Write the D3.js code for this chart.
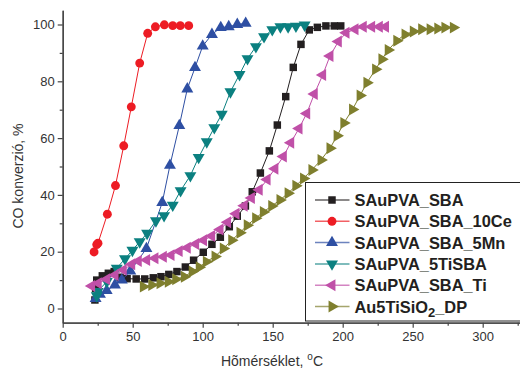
<!DOCTYPE html>
<html>
<head>
<meta charset="utf-8">
<script src="https://cdn.jsdelivr.net/npm/d3@7"></script>
<style>
  body { margin: 0; background: #fff; }
  svg { font-family: "Liberation Sans", Arial, sans-serif; }
</style>
</head>
<body>
<div id="chart"></div>
<script>
// Series (temperature in °C, CO conversion in %)
const sbaX = [23, 23.5, 24.3, 28.3, 32.6, 36.8, 41, 46, 52.5, 58.6, 64.7, 70.2, 75.8, 81.6, 87.6, 93.5, 100.4, 106.6, 112.6, 119, 124.7, 130.5, 135.4, 141.2, 147.6, 153.3, 159.3, 164.7, 170.2, 176.1, 181.9, 188, 194, 198.6];
const sbaY = [3, 7, 10, 11.5, 12.4, 13, 11, 10.5, 10.4, 10.4, 10.8, 11.2, 12, 13, 14.6, 17, 19.8, 22.6, 25.1, 28.8, 32.5, 36.1, 41.1, 47.7, 55.5, 64.6, 74.6, 84.9, 93, 98.1, 99, 99.5, 99.5, 99.5];

const ceX = [22.4, 24.3, 25.2, 31.9, 37.7, 43.6, 49, 55, 60.7, 66.2, 72.6, 78.6, 84, 90];
const ceY = [19.9, 22.5, 23, 33.2, 43.3, 57.3, 71, 86.4, 96.9, 99.2, 99.9, 99.6, 99.6, 99.6];

const mnX = [23.5, 26.6, 31.4, 37.3, 42.2, 48.3, 59.8, 71.1, 76.6, 83.3, 89, 94.5, 100, 106.6, 112.9, 118.6, 124.7, 130.7];
const mnY = [3.5, 5, 6.3, 8.3, 10, 13.2, 21.1, 37.3, 50.4, 64.4, 77.3, 84.8, 92.4, 96.5, 98.9, 99.2, 100, 100.4];

const tiSbaX = [24.3, 25, 31.5, 38.6, 44.5, 49.8, 55, 60.3, 66.6, 72.4, 78.6, 84.2, 91.2, 97.1, 102.9, 108.3, 113.6, 119.8, 126.3, 132, 138, 143.8, 149.7, 155.5, 161, 166.6, 172.8];
const tiSbaY = [4.5, 6, 9.5, 14.2, 17.5, 20.5, 23.5, 26.5, 30.9, 32.7, 36.4, 41.5, 46.8, 53.2, 58.7, 63.7, 68.4, 76.3, 82.4, 88, 92.2, 95.7, 98.2, 99.2, 99.2, 99.4, 99.8];

const tiX = [20.7, 25.4, 31.4, 37.4, 43.3, 49.3, 54, 60, 65.9, 71.9, 77.4, 83.2, 89, 95, 100.6, 106.4, 112.4, 117.8, 123.8, 129.6, 134.8, 140.4, 146, 151.6, 157.6, 162.9, 168.8, 174.3, 179.7, 185.7, 190.9, 196.9, 202.4, 208.8, 214.7, 220.7, 226.2, 230.6];
const tiY = [7.9, 8.9, 10.3, 11.8, 13.6, 15.6, 16.7, 17.1, 17.7, 18.2, 18.8, 20.2, 21.4, 22.7, 24, 25.5, 27.8, 30.4, 33.4, 36.2, 38.9, 41.8, 45.4, 49.2, 53.5, 58.4, 63.4, 68.7, 75.5, 82.2, 88.9, 94, 97.1, 98.3, 99.2, 99.2, 99.2, 99.2];

const dpX = [57.6, 63.6, 69.5, 75.4, 80.7, 86.9, 92.5, 97.5, 102.6, 108.8, 114.7, 120.7, 126.6, 131.8, 137.8, 143.3, 149.3, 155.2, 161, 166.5, 172, 178, 184.5, 190.9, 196, 200.8, 207, 212.4, 217.3, 223.5, 228, 232.5, 238.6, 244.5, 250.4, 256.4, 262.4, 267.9, 273, 279];
const dpY = [7.7, 8.3, 8.9, 9.4, 10.3, 11.2, 13, 14.5, 16.5, 18.3, 21.1, 24, 26.7, 29.3, 31.8, 34, 36.1, 38.2, 40.6, 43.2, 45.8, 48.8, 52.3, 56.4, 60.8, 65.3, 70.1, 75, 79.5, 84.2, 87.8, 91, 94.3, 96.5, 97.5, 98.3, 98.3, 98.6, 98.9, 98.9];

const xTicks = [0, 50, 100, 150, 200, 250, 300];
const xMinor = [25, 75, 125, 175, 225, 275, 325];
const yTicks = [0, 20, 40, 60, 80, 100];
const yMinor = [10, 30, 50, 70, 90];

const series = [
  { name: "SAuPVA_SBA", xs: sbaX, ys: sbaY, color: "#231f20", shape: "square" },
  { name: "SAuPVA_SBA_10Ce", xs: ceX, ys: ceY, color: "#ed1c24", shape: "circle" },
  { name: "SAuPVA_SBA_5Mn", xs: mnX, ys: mnY, color: "#2e4fa3", shape: "up" },
  { name: "SAuPVA_5TiSBA", xs: tiSbaX, ys: tiSbaY, color: "#0b8080", shape: "down" },
  { name: "SAuPVA_SBA_Ti", xs: tiX, ys: tiY, color: "#c050a8", shape: "left" },
  { name: "Au5TiSiO2_DP", xs: dpX, ys: dpY, color: "#7f7f2e", shape: "right" }
];

const width = 520;
const height = 372;

const svg = d3.select("#chart")
  .append("svg")
  .attr("width", width)
  .attr("height", height);

const x = d3.scaleLinear().domain([0, 330]).range([62.7, 524.7]);
const y = d3.scaleLinear().domain([-5, 105]).range([322.7, 10.3]);

// marker shapes
function markerPath(shape) {
  if (shape === "square") return d3.symbol(d3.symbolSquare, 56)();
  if (shape === "circle") return d3.symbol(d3.symbolCircle, 62)();
  return d3.symbol(d3.symbolTriangle, 62)();
}
function markerRotate(shape) {
  return { down: 180, left: -90, right: 90 }[shape] || 0;
}

// lines and markers
const line = d3.line()
  .x(d => x(d[0]))
  .y(d => y(d[1]));

series.forEach(s => {
  const pts = s.xs.map((v, i) => [v, s.ys[i]]);
  svg.append("path")
    .datum(pts)
    .attr("fill", "none")
    .attr("stroke", s.color)
    .attr("stroke-width", 1)
    .attr("d", line);
  svg.append("g")
    .selectAll("path")
    .data(pts)
    .join("path")
    .attr("d", markerPath(s.shape))
    .attr("transform", d => `translate(${x(d[0])},${y(d[1])}) rotate(${markerRotate(s.shape)})`)
    .attr("fill", s.color);
});

// axes
function styleAxis(g) {
  g.select(".domain").attr("stroke", "#444").attr("stroke-width", 1.3);
  g.selectAll(".tick line").attr("stroke", "#444").attr("stroke-width", 1.2);
  g.selectAll(".tick text").attr("fill", "#333").attr("font-size", "13px");
}

svg.append("g")
  .attr("transform", `translate(0,${y(-5)})`)
  .call(d3.axisBottom(x).tickValues(xTicks).tickSize(5).tickSizeOuter(0).tickPadding(4))
  .call(styleAxis);

svg.append("g")
  .attr("transform", `translate(0,${y(-5)})`)
  .call(d3.axisBottom(x).tickValues(xMinor).tickSize(3).tickFormat("").tickSizeOuter(0))
  .call(styleAxis);

svg.append("g")
  .attr("transform", `translate(${x(0)},0)`)
  .call(d3.axisLeft(y).tickValues(yTicks).tickSize(5).tickSizeOuter(0).tickPadding(3))
  .call(styleAxis);

svg.append("g")
  .attr("transform", `translate(${x(0)},0)`)
  .call(d3.axisLeft(y).tickValues(yMinor).tickSize(3).tickFormat("").tickSizeOuter(0))
  .call(styleAxis);

// axis titles
svg.append("text")
  .attr("transform", "translate(23,176) rotate(-90)")
  .attr("text-anchor", "middle")
  .attr("font-size", "14px")
  .attr("fill", "#333")
  .text("CO konverzió, %");

const xTitle = svg.append("text")
  .attr("x", 272)
  .attr("y", 366)
  .attr("text-anchor", "middle")
  .attr("font-size", "14px")
  .attr("fill", "#333");
xTitle.append("tspan").text("Hõmérséklet, ");
xTitle.append("tspan").attr("font-size", "10px").attr("dy", -6).text("o");
xTitle.append("tspan").attr("dy", 6).text("C");

// legend
const legend = svg.append("g");
legend.append("rect")
  .attr("x", 305.5)
  .attr("y", 182.5)
  .attr("width", 240)
  .attr("height", 138.5)
  .attr("fill", "#fff")
  .attr("stroke", "#222")
  .attr("stroke-width", 1);

series.forEach((s, i) => {
  const ly = 200 + i * 21.3;
  legend.append("line")
    .attr("x1", 315).attr("x2", 349.5)
    .attr("y1", ly).attr("y2", ly)
    .attr("stroke", s.color)
    .attr("stroke-opacity", 0.7)
    .attr("stroke-width", 1.5);
  legend.append("path")
    .attr("d", markerPath(s.shape))
    .attr("transform", `translate(332,${ly}) rotate(${markerRotate(s.shape)})`)
    .attr("fill", s.color);
  const t = legend.append("text")
    .attr("x", 354.5)
    .attr("y", ly + 6)
    .attr("font-size", "16.4px")
    .attr("font-weight", "bold")
    .attr("fill", "#231f20");
  if (s.name === "Au5TiSiO2_DP") {
    t.append("tspan").text("Au5TiSiO");
    t.append("tspan").attr("dy", 4).attr("font-size", "13px").text("2");
    t.append("tspan").attr("dy", -4).text("_DP");
  } else {
    t.text(s.name);
  }
});
</script>
</body>
</html>
